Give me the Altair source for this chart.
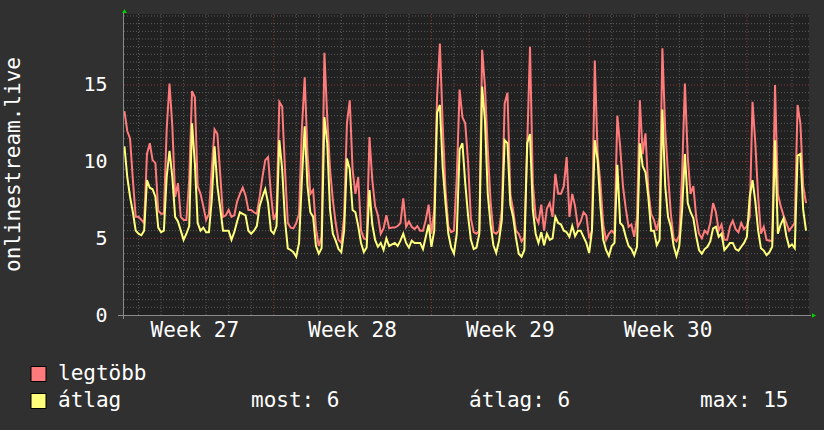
import altair as alt
import pandas as pd

# ---------------- data (3-hour samples, days counted from start of week 27) ----------------
START_DAY = 0.375
STEP_DAYS = 0.125

legtobb = [
    13.3, 12.0, 11.5, 8.8, 6.4, 6.4, 6.2, 6.0, 10.5, 11.2, 10.1, 9.9, 6.8, 6.6, 6.6, 12.1,
    15.1, 12.3, 7.7, 8.6, 6.4, 6.2, 6.2, 8.8, 14.6, 14.2, 8.4, 7.9, 7.1, 6.2, 6.6,
    9.5, 12.1, 11.8, 9.2, 6.4, 6.5, 6.85, 6.4, 6.5, 7.4, 7.9, 8.3, 7.8, 6.85, 6.85, 6.7,
    6.6, 7.7, 9.0, 10.1, 10.3, 7.9, 6.2, 6.7, 13.9, 13.6, 9.5, 6.0, 5.7, 5.65,
    6.0, 6.6, 12.1, 15.5, 10.5, 7.9, 8.15, 5.65, 4.5, 5.1, 17.1, 12.9, 9.5, 7.5, 6.0, 4.9,
    4.7, 6.4, 12.5, 14.0, 9.5, 7.9, 9.0, 5.5, 5.0, 4.9, 11.6, 8.8, 7.1, 6.5,
    5.3, 5.65, 6.5, 5.65, 5.7, 5.7, 5.8, 6.0, 7.6, 5.75, 6.1, 5.75, 5.6, 5.8, 5.5, 5.5,
    6.2, 7.2, 5.3, 6.85, 14.2, 17.7, 12.4, 8.15, 5.75, 5.4, 5.5, 9.0, 14.7, 12.9,
    12.5, 10.0, 6.3, 5.4, 5.3, 5.5, 17.3, 14.9, 10.8, 7.4, 5.4, 5.3, 5.5, 6.85, 13.8, 14.5,
    7.9, 6.85, 5.5, 5.3, 4.8, 5.1, 11.0, 17.5, 8.6, 6.4, 6.0, 7.2, 5.5, 6.95,
    7.3, 6.4, 9.2, 7.9, 7.9, 8.4, 10.3, 6.4, 7.9, 7.1, 5.75, 6.1, 6.7, 6.5, 5.0, 5.5,
    16.6, 10.5, 8.6, 5.9, 4.9, 5.3, 5.5, 5.3, 13.0, 11.0, 8.4, 6.95, 5.75, 5.9,
    5.1, 6.4, 14.0, 10.5, 11.85, 8.15, 6.6, 6.2, 5.5, 6.4, 17.4, 12.1, 9.2, 6.6, 5.0, 4.8,
    5.2, 9.2, 15.1, 10.3, 7.9, 8.4, 6.4, 5.3, 5.0, 5.5, 5.3, 6.0, 7.3, 6.7,
    5.5, 5.9, 4.9, 4.9, 5.75, 6.15, 5.6, 5.4, 6.0, 5.6, 5.8, 6.4, 13.9, 11.2, 7.7, 5.3,
    5.75, 4.9, 4.85, 4.85, 15.0, 7.9, 7.1, 6.5, 6.0, 5.5, 5.75, 6.0, 13.7, 12.5, 8.4, 7.3,
]

atlag = [
    11.0, 9.0, 7.7, 6.7, 5.5, 5.3, 5.2, 5.5, 8.8, 8.3, 8.2, 7.7, 5.7, 5.4, 5.5, 9.0,
    10.7, 9.0, 6.4, 6.1, 5.5, 4.9, 5.3, 5.8, 12.5, 9.9, 6.0, 5.5, 5.7, 5.4, 5.4,
    7.5, 11.0, 8.4, 7.0, 5.5, 5.5, 5.5, 4.9, 5.4, 6.1, 6.7, 6.6, 6.5, 5.5, 5.3, 5.5,
    5.8, 7.1, 7.7, 8.2, 7.3, 5.5, 5.3, 5.8, 11.4, 9.5, 6.2, 4.35, 4.24, 4.1,
    3.8, 4.7, 8.8, 12.3, 8.4, 6.7, 6.4, 4.5, 4.0, 4.35, 12.9, 11.2, 6.85, 5.3, 4.85, 4.3,
    4.1, 5.5, 10.2, 9.5, 6.85, 6.7, 5.8, 4.7, 4.1, 4.4, 8.15, 5.9, 4.9, 4.45,
    4.7, 4.24, 5.0, 4.5, 4.6, 4.7, 4.5, 4.85, 5.3, 4.7, 4.4, 4.85, 4.7, 4.7, 4.7, 4.3,
    5.1, 5.9, 4.45, 5.5, 13.2, 13.7, 9.6, 7.3, 5.3, 4.4, 4.0, 5.3, 10.8, 11.2,
    8.6, 6.5, 4.9, 4.3, 4.4, 5.3, 14.9, 12.7, 7.9, 5.9, 4.55, 4.05, 4.85, 6.2, 11.4, 11.2,
    7.2, 6.4, 5.05, 4.0, 3.8, 4.24, 11.2, 11.8, 6.85, 5.3, 4.7, 5.4, 4.55, 5.3,
    4.9, 5.0, 6.4, 6.0, 5.9, 5.5, 5.4, 5.1, 5.8, 5.15, 5.5, 5.5, 5.1, 4.7, 4.05, 5.5,
    11.4, 10.1, 7.1, 4.9, 4.24, 3.85, 4.5, 4.7, 9.8, 6.0, 5.8, 5.1, 4.5, 4.3,
    3.9, 4.45, 11.2, 9.7, 9.3, 7.7, 5.5, 5.5, 4.55, 4.9, 13.4, 8.4, 6.4, 5.75, 4.5, 3.85,
    4.5, 6.85, 10.5, 7.3, 6.7, 6.3, 5.15, 4.24, 4.0, 4.3, 4.45, 4.8, 5.65, 5.75,
    5.1, 5.3, 4.24, 4.45, 4.7, 4.7, 4.3, 4.2, 4.45, 4.7, 5.1, 7.7, 8.8, 7.4, 5.5, 4.35,
    4.2, 3.9, 4.1, 4.45, 11.4, 5.3, 5.9, 6.3, 5.15, 4.45, 4.6, 4.35, 10.4, 10.5, 6.85, 5.5,
]

week_labels = ["Week 27", "Week 28", "Week 29", "Week 30"]
week_mid_days = [3.5, 10.5, 17.5, 24.5]
week_start_days = [7, 14, 21, 28]
y_tick_values = [0, 5, 10, 15]
y_title = "onlinestream.live"
legend_names = ["legtöbb", "átlag"]
stats_texts = ["most: 6", "átlag: 6", "max: 15"]

# ---------------- styling ----------------
FONT = "DejaVu Sans Mono"
BG = "#303030"
PLOT_BG = "#212121"
RED = "#ff7b7b"
YELLOW = "#ffff7b"
MINOR = "#5c5c5c"
MAJOR = "#8c3a3a"
W, H = 686, 301

days = [START_DAY + i * STEP_DAYS for i in range(len(legtobb))]
df = pd.DataFrame({"day": days, "legtobb": legtobb, "atlag": atlag})

xs = alt.Scale(domain=[0.311, 30.757], nice=False, zero=False)
ys = alt.Scale(domain=[0, 19.63], nice=False)

yaxis = alt.Axis(
    values=y_tick_values, grid=False, ticks=False, domain=False,
    labelPadding=16, labelFont=FONT, labelFontSize=20, labelColor="white",
    title=y_title, titleFont=FONT, titleFontSize=21, titleColor="white",
    titleFontWeight="normal", titleAngle=270, titleX=-104, titleY=150,
    titleAlign="center", titleBaseline="alphabetic",
)

minor_days = [d for d in range(1, 31) if d not in week_start_days]
minor_vals = [i * 0.5 for i in range(1, 40) if (i * 0.5) % 5 != 0]
major_vals = [5, 10, 15]

grid_x_minor = alt.Chart(pd.DataFrame({"d": minor_days})).mark_rule(
    color=MINOR, strokeDash=[1, 2], strokeWidth=1
).encode(x=alt.X("d:Q", scale=xs, axis=None))
grid_x_major = alt.Chart(pd.DataFrame({"d": week_start_days})).mark_rule(
    color=MAJOR, strokeDash=[1, 2], strokeWidth=1
).encode(x=alt.X("d:Q", scale=xs, axis=None))
grid_y_minor = alt.Chart(pd.DataFrame({"v": minor_vals})).mark_rule(
    color=MINOR, strokeDash=[1, 2], strokeWidth=1
).encode(y=alt.Y("v:Q", scale=ys, axis=yaxis))
grid_y_major = alt.Chart(pd.DataFrame({"v": major_vals})).mark_rule(
    color=MAJOR, strokeDash=[1, 2], strokeWidth=1
).encode(y=alt.Y("v:Q", scale=ys, axis=yaxis))

line_red = alt.Chart(df).mark_line(color=RED, strokeWidth=2, interpolate="linear").encode(
    x=alt.X("day:Q", scale=xs, axis=None),
    y=alt.Y("legtobb:Q", scale=ys, axis=yaxis),
)
line_yel = alt.Chart(df).mark_line(color=YELLOW, strokeWidth=2, interpolate="linear").encode(
    x=alt.X("day:Q", scale=xs, axis=None),
    y=alt.Y("atlag:Q", scale=ys, axis=yaxis),
)

axis_x_line = alt.Chart(pd.DataFrame({"a": [0]})).mark_rule(color="#8a8a8a", strokeWidth=1).encode(
    x=alt.value(-5), x2=alt.value(W + 2), y=alt.value(H + 0.5)
)
axis_y_line = alt.Chart(pd.DataFrame({"a": [0]})).mark_rule(color="#8a8a8a", strokeWidth=1).encode(
    x=alt.value(0.5), y=alt.value(-3), y2=alt.value(H + 4)
)
arrow_up = alt.Chart(pd.DataFrame({"a": [0]})).mark_point(
    shape="triangle-up", filled=True, color="#00d000", size=22, opacity=1
).encode(x=alt.value(1.5), y=alt.value(-3))
arrow_right = alt.Chart(pd.DataFrame({"a": [0]})).mark_point(
    shape="triangle-right", filled=True, color="#00d000", size=22, opacity=1
).encode(x=alt.value(W + 5), y=alt.value(H + 0.5))

week_text = alt.Chart(pd.DataFrame({"d": week_mid_days, "t": week_labels})).mark_text(
    font=FONT, fontSize=21, color="white", align="center", baseline="middle"
).encode(x=alt.X("d:Q", scale=xs, axis=None), y=alt.value(317), text="t:N")


def label(txt, x, y):
    return alt.Chart(pd.DataFrame({"t": [txt]})).mark_text(
        font=FONT, fontSize=21, color="white", align="left", baseline="middle"
    ).encode(x=alt.value(x), y=alt.value(y), text="t:N")


def swatch(color, y):
    return alt.Chart(pd.DataFrame({"a": [0]})).mark_square(
        color=color, size=225, opacity=1, stroke="black", strokeWidth=1
    ).encode(x=alt.value(-84.5), y=alt.value(y))


legend_layers = [
    swatch(RED, 360), label(legend_names[0], -65, 360),
    swatch(YELLOW, 387), label(legend_names[1], -65, 387),
    label(stats_texts[0], 128, 387),
    label(stats_texts[1], 346, 387),
    label(stats_texts[2], 577, 387),
]

chart = alt.layer(
    grid_x_minor, grid_y_minor, grid_x_major, grid_y_major,
    line_red, line_yel,
    axis_x_line, axis_y_line, arrow_up, arrow_right,
    week_text, *legend_layers,
).properties(
    width=W, height=H,
    background=BG,
    padding={"left": 123, "top": 14, "right": 15, "bottom": 115},
    autosize=alt.AutoSizeParams(type="none"),
).configure_view(fill=PLOT_BG, stroke=None)

chart.save("out.html", embed_options={"renderer": "svg", "actions": False})
